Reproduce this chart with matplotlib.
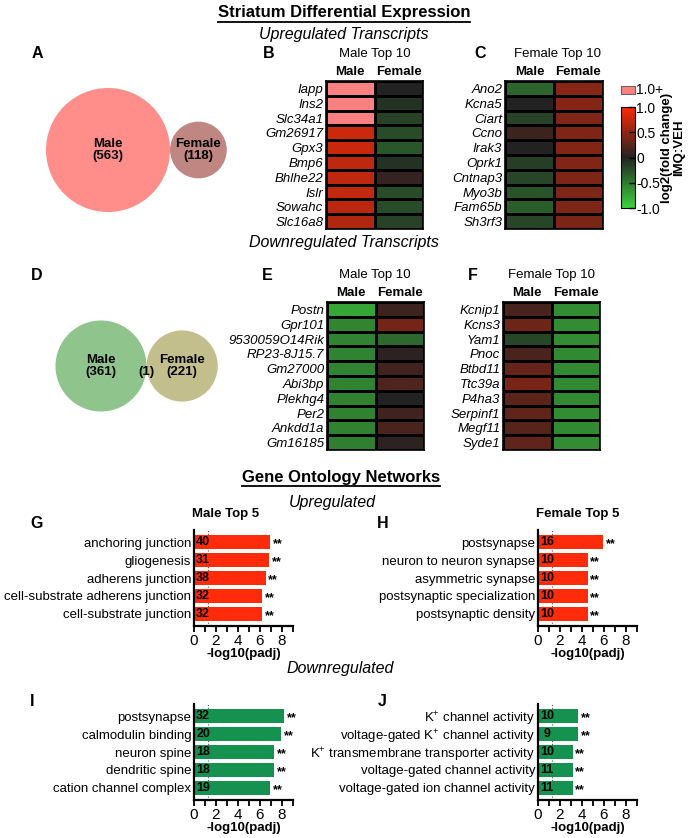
import numpy as np
import matplotlib
matplotlib.use('Agg')
import matplotlib.pyplot as plt
from matplotlib.colors import LinearSegmentedColormap, Normalize
from matplotlib.cm import ScalarMappable
from matplotlib.patches import Circle
from matplotlib.lines import Line2D

plt.rcParams['font.family'] = ['Liberation Sans', 'DejaVu Sans']
plt.rcParams['mathtext.fontset'] = 'custom'
plt.rcParams['mathtext.rm'] = 'Liberation Sans'
plt.rcParams['mathtext.it'] = 'Liberation Sans:italic'
plt.rcParams['mathtext.bf'] = 'Liberation Sans:bold'

# Venn counts
up_venn = {'Male': 563, 'Female': 118, 'shared': 0}
down_venn = {'Male': 361, 'Female': 221, 'shared': 1}

# Heatmaps: log2 fold change (IMQ:VEH), Male / Female columns
up_male_genes = ['Iapp', 'Ins2', 'Slc34a1', 'Gm26917', 'Gpx3', 'Bmp6', 'Bhlhe22', 'Islr', 'Sowahc', 'Slc16a8']
up_male_m = [1.6, 1.4, 1.3, 0.76, 0.75, 0.7, 0.7, 0.72, 0.68, 0.64]
up_male_f = [0.0, -0.09, -0.18, -0.23, -0.3, -0.09, 0.08, -0.23, -0.23, -0.18]

up_female_genes = ['Ano2', 'Kcna5', 'Ciart', 'Ccno', 'Irak3', 'Oprk1', 'Cntnap3', 'Myo3b', 'Fam65b', 'Sh3rf3']
up_female_m = [-0.37, 0.0, -0.18, 0.12, 0.0, -0.15, -0.2, -0.28, -0.33, -0.2]
up_female_f = [0.46, 0.45, 0.42, 0.42, 0.43, 0.43, 0.41, 0.41, 0.41, 0.4]

down_male_genes = ['Postn', 'Gpr101', '9530059O14Rik', 'RP23-8J15.7', 'Gm27000', 'Abi3bp', 'Plekhg4', 'Per2', 'Ankdd1a', 'Gm16185']
down_male_m = [-0.75, -0.56, -0.55, -0.55, -0.55, -0.55, -0.54, -0.54, -0.54, -0.53]
down_male_f = [0.12, 0.37, -0.4, 0.05, 0.14, 0.2, 0.0, 0.14, 0.18, 0.04]

down_female_genes = ['Kcnip1', 'Kcns3', 'Yam1', 'Pnoc', 'Btbd11', 'Ttc39a', 'P4ha3', 'Serpinf1', 'Megf11', 'Syde1']
down_female_m = [0.16, 0.34, -0.2, 0.18, 0.3, 0.39, 0.25, 0.28, 0.23, 0.28]
down_female_f = [-0.6, -0.6, -0.6, -0.58, -0.58, -0.58, -0.58, -0.6, -0.58, -0.6]

# Gene ontology: -log10(padj) and gene counts
go_up_male_terms = ['anchoring junction', 'gliogenesis', 'adherens junction',
                    'cell-substrate adherens junction', 'cell-substrate junction']
go_up_male_vals = [6.9, 6.8, 6.5, 6.2, 6.2]
go_up_male_counts = [40, 31, 38, 32, 32]

go_up_female_terms = ['postsynapse', 'neuron to neuron synapse', 'asymmetric synapse',
                      'postsynaptic specialization', 'postsynaptic density']
go_up_female_vals = [5.9, 4.5, 4.5, 4.5, 4.5]
go_up_female_counts = [16, 10, 10, 10, 10]

go_down_male_terms = ['postsynapse', 'calmodulin binding', 'neuron spine',
                      'dendritic spine', 'cation channel complex']
go_down_male_vals = [8.2, 7.9, 7.25, 7.25, 6.9]
go_down_male_counts = [32, 20, 18, 18, 19]

go_down_female_terms = ['K$^{+}$ channel activity', 'voltage-gated K$^{+}$ channel activity',
                        'K$^{+}$ transmembrane transporter activity', 'voltage-gated channel activity',
                        'voltage-gated ion channel activity']
go_down_female_vals = [3.65, 3.65, 3.15, 3.15, 3.15]
go_down_female_counts = [10, 9, 10, 11, 11]

cbar_ticks = [-1.0, -0.5, 0.0, 0.5, 1.0]
cbar_labels = ['-1.0', '-0.5', '0', '0.5', '1.0']

W, H = 688, 838
fig = plt.figure(figsize=(W / 100, H / 100), dpi=100)


def box(x0, y0, x1, y1):
    return [x0 / W, 1 - y1 / H, (x1 - x0) / W, (y1 - y0) / H]


def ftext(x, y, s, **kw):
    kw.setdefault('ha', 'center')
    kw.setdefault('va', 'center')
    return fig.text(x / W, 1 - y / H, s, **kw)


def underline(t):
    r = fig.canvas.get_renderer()
    bb = t.get_window_extent(renderer=r)
    inv = fig.transFigure.inverted()
    (x0, y0), (x1, _) = inv.transform([[bb.x0, bb.y0 - 1.5], [bb.x1, bb.y0]])
    fig.add_artist(Line2D([x0, x1], [y0, y0], color='black', linewidth=1.3, transform=fig.transFigure))


cmap = LinearSegmentedColormap.from_list('gkr', ['#3CD23C', '#222222', '#FF2A05'])
cmap.set_over('#FF8080')
norm = Normalize(-1, 1)

# ---- titles
t = ftext(344, 13, 'Striatum Differential Expression', fontsize=12, fontweight='bold')
ftext(344, 35, 'Upregulated Transcripts', fontsize=11.5, fontstyle='italic')
ftext(344, 242, 'Downregulated Transcripts', fontsize=11.5, fontstyle='italic')
t2 = ftext(341, 477, 'Gene Ontology Networks', fontsize=12, fontweight='bold')
ftext(332, 502, 'Upregulated', fontsize=11.5, fontstyle='italic')
ftext(340, 669, 'Downregulated', fontsize=11.5, fontstyle='italic')
underline(t)
underline(t2)

for letter, x, y in [('A', 37, 54), ('B', 269, 54), ('C', 480, 54), ('D', 37, 275), ('E', 267, 275),
                     ('F', 473, 275), ('G', 37, 523), ('H', 383, 523), ('I', 32, 702), ('J', 382, 702)]:
    ftext(x, y, letter, fontsize=11.5, fontweight='bold')


# ---- Venn diagrams (circle area ~ set size)
def venn(rect, k, cx, cy, counts, colors):
    ax = fig.add_axes(box(*rect))
    x0, y0, x1, y1 = rect
    ax.set_xlim(-(cx - x0) / k, (x1 - cx) / k)
    ax.set_ylim(-(y1 - cy) / k, (cy - y0) / k)
    r1 = np.sqrt(counts['Male'] + counts['shared'])
    r2 = np.sqrt(counts['Female'] + counts['shared'])
    ax.add_patch(Circle((0, 0), r1, color=colors[0], linewidth=0))
    ax.add_patch(Circle((r1 + r2, 0), r2, color=colors[1], linewidth=0))
    ax.text(0, 0, 'Male\n(%d)' % counts['Male'], ha='center', va='center',
            fontsize=9.5, fontweight='bold', linespacing=1.0)
    ax.text(r1 + r2, 0, 'Female\n(%d)' % counts['Female'], ha='center', va='center',
            fontsize=9.5, fontweight='bold', linespacing=1.0)
    if counts['shared']:
        ax.text(r1, 0, ' \n(%d)' % counts['shared'], ha='center', va='center',
                fontsize=9.5, fontweight='bold', linespacing=1.0)
    ax.axis('off')


venn((30, 70, 250, 235), 62 / np.sqrt(563), 108, 150, up_venn, ['#FF8E8A', '#C08682'])
venn((30, 290, 250, 440), 45.5 / np.sqrt(362), 101, 366, down_venn, ['#8FC48C', '#C2BF8C'])


# ---- heatmaps
def heatmap(rect, genes, male, female, title, title_x):
    ax = fig.add_axes(box(*rect))
    vals = np.column_stack([male, female])
    ax.pcolormesh(np.arange(3), np.arange(len(genes) + 1), vals, cmap=cmap, norm=norm,
                  edgecolors='black', linewidth=1)
    ax.set_ylim(len(genes), 0)
    ax.set_yticks(np.arange(len(genes)) + 0.5, genes, fontstyle='italic', fontsize=9.5)
    ax.set_xticks([0.5, 1.5], ['Male', 'Female'], fontweight='bold', fontsize=9.5)
    ax.xaxis.tick_top()
    ax.tick_params(length=0, pad=2)
    for sp in ax.spines.values():
        sp.set_linewidth(1.2)
    ftext(title_x, rect[1] - 27, title, fontsize=9.5)


heatmap((326, 81, 423, 229), up_male_genes, up_male_m, up_male_f, 'Male Top 10', 375)
heatmap((505, 81, 603, 229), up_female_genes, up_female_m, up_female_f, 'Female Top 10', 557)
heatmap((327, 302, 424, 450), down_male_genes, down_male_m, down_male_f, 'Male Top 10', 375)
heatmap((503, 302, 600, 450), down_female_genes, down_female_m, down_female_f, 'Female Top 10', 552)

# ---- colour bar
cax = fig.add_axes(box(621, 107, 635, 208))
cb = fig.colorbar(ScalarMappable(norm=norm, cmap=cmap), cax=cax)
cb.set_ticks(cbar_ticks, labels=cbar_labels)
cax.tick_params(direction='in', length=4, width=1, labelsize=10, pad=1)
cb.outline.set_linewidth(0.8)
sax = fig.add_axes(box(621, 86, 635, 94))
sax.set_facecolor('#FF8080')
sax.set_xticks([])
sax.set_yticks([])
for sp in sax.spines.values():
    sp.set_linewidth(0.8)
    sp.set_color('0.4')
ftext(636, 90, '1.0+', ha='left', fontsize=10)
ftext(673, 148, 'log2(fold change)\nIMQ:VEH', rotation=90, fontsize=9.5, fontweight='bold',
      linespacing=1.05)


# ---- GO bar charts
def go_bars(rect, terms, vals, counts, color, title=None, title_x=None):
    ax = fig.add_axes(box(*rect))
    y = np.arange(len(terms))
    ax.barh(y, vals, height=0.83, color=color)
    ax.set_xlim(0, 9)
    ax.set_ylim(len(terms) - 1 + 0.667, -0.667)
    ax.axvline(-np.log10(0.05), color='0.35', linestyle=(0, (1, 1.5)), linewidth=0.8, zorder=0)
    ax.set_yticks(y, terms, fontsize=9.5)
    ax.tick_params(axis='y', length=0, pad=2)
    ax.set_xticks(np.arange(10), [str(i) if i % 2 == 0 else '' for i in range(10)])
    ax.tick_params(axis='x', length=4, width=1.3, labelsize=11, pad=1.5)
    for s in ['top', 'right']:
        ax.spines[s].set_visible(False)
    for s in ['left', 'bottom']:
        ax.spines[s].set_linewidth(1.6)
    ax.set_xlabel('-log10(padj)', fontweight='bold', fontsize=9.5, labelpad=0)
    for yi, v, c in zip(y, vals, counts):
        ax.text(0.83, yi, str(c), ha='center', va='center', fontsize=9, fontweight='bold')
        ax.text(v + 0.25, yi + 0.1, '**', ha='left', va='center', fontsize=9, fontweight='bold')
    ax.patch.set_alpha(0)
    if title:
        ftext(title_x, rect[1] - 16, title, fontsize=9.5, fontweight='bold')


red = '#FF2B0A'
green = '#15924F'
go_bars((194, 530, 293, 626), go_up_male_terms, go_up_male_vals, go_up_male_counts, red, 'Male Top 5', 226)
go_bars((538, 530, 637, 626), go_up_female_terms, go_up_female_vals, go_up_female_counts, red, 'Female Top 5', 578)
go_bars((194, 704, 293, 800), go_down_male_terms, go_down_male_vals, go_down_male_counts, green)
go_bars((538, 704, 637, 800), go_down_female_terms, go_down_female_vals, go_down_female_counts, green)

fig.savefig('out.png', dpi=100)
